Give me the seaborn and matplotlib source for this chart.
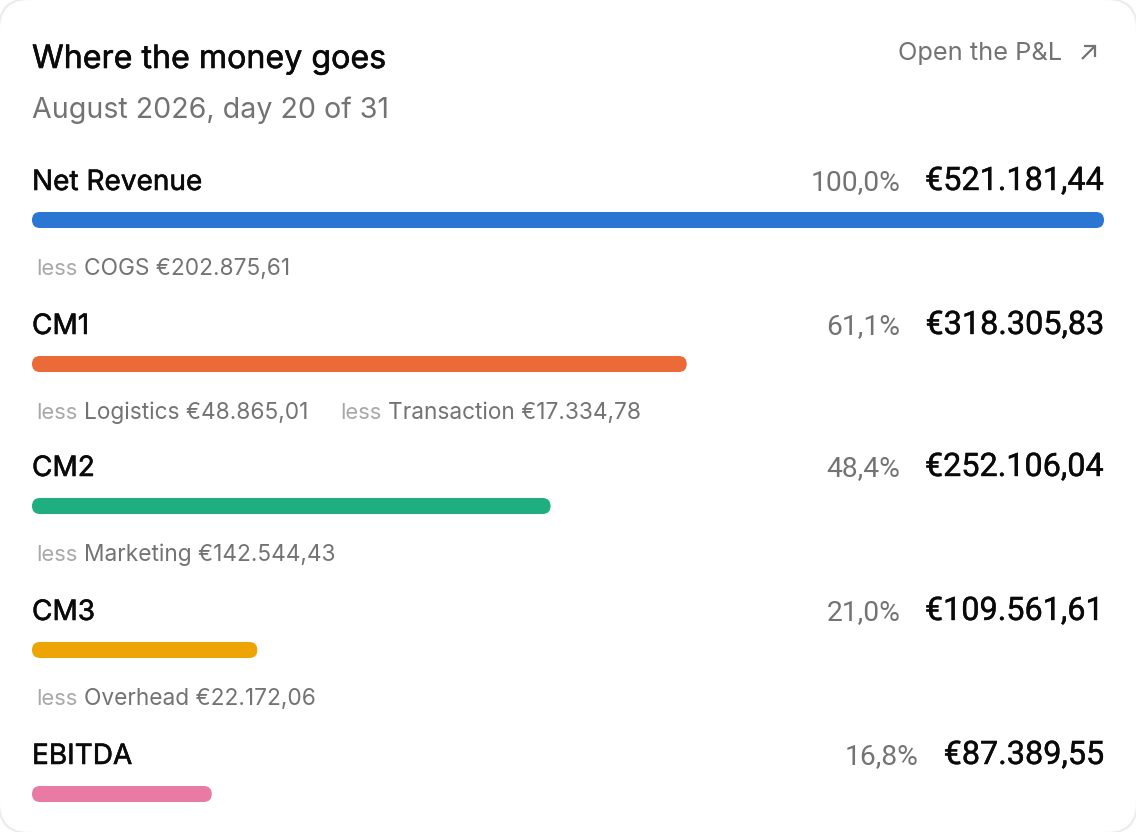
import matplotlib

matplotlib.use("Agg")
import matplotlib.patheffects as pe
import matplotlib.pyplot as plt
import pandas as pd
import seaborn as sns
from matplotlib.patches import FancyBboxPatch
from matplotlib.transforms import Affine2D

# values
levels = ["Net Revenue", "CM1", "CM2", "CM3", "EBITDA"]
amounts = [521181.44, 318305.83, 252106.04, 109561.61, 87389.55]
amount_labels = ["€521.181,44", "€318.305,83", "€252.106,04", "€109.561,61", "€87.389,55"]
share_labels = ["100,0%", "61,1%", "48,4%", "21,0%", "16,8%"]
colors = ["#2b76d2", "#ec6a37", "#1fae80", "#eea405", "#e87aa4"]
deductions = [
    [(36, 83.5, "COGS €202.875,61")],
    [(36, 83.5, "Logistics €48.865,01"), (340, 388.5, "Transaction €17.334,78")],
    [(36, 83.5, "Marketing €142.544,43")],
    [(36, 83.5, "Overhead €22.172,06")],
]

# layout, in pixels
W, H = 1136, 832
bar_centers = [220, 364, 506, 650, 794]
name_baselines = [190, 334, 476, 620, 764]
less_baselines = [275, 419, 561, 705]
share_right = [900.5, 900.5, 900.5, 900.5, 918.5]

sns.set_theme(style="white")
plt.rcParams["font.family"] = ["Inter", "DejaVu Sans"]

fig = plt.figure(figsize=(W / 100, H / 100), dpi=100, facecolor="white")
px = Affine2D().scale(1 / W, -1 / H).translate(0, 1) + fig.transFigure

card = FancyBboxPatch(
    (-1, -1), W + 2, H + 2, boxstyle="round,pad=0,rounding_size=30",
    transform=px, fc="white", ec="#ebebeb", lw=1.5, zorder=0, clip_on=False,
)
fig.add_artist(card)

ax = fig.add_axes([32 / W, 0, 1072 / W, 1])
ax.patch.set_alpha(0)
df = pd.DataFrame({"amount": amounts, "row": bar_centers, "level": levels})
# native_scale multiplies width by the smallest gap between rows (142 px)
sns.barplot(
    data=df, x="amount", y="row", hue="level", palette=colors, orient="h",
    native_scale=True, width=16 / 142, dodge=False, legend=False, ax=ax, saturation=1,
)
ax.set_xlim(0, amounts[0])
ax.set_ylim(H, 0)
ax.axis("off")

# swap the square bars for rounded ones of the same size
scale = 1072 / amounts[0]
for bar in list(ax.patches):
    rounded = FancyBboxPatch(
        (32, bar.get_y()), bar.get_width() * scale, bar.get_height(),
        boxstyle="round,pad=0,rounding_size=8", transform=px,
        fc=bar.get_facecolor(), ec="none",
    )
    bar.remove()
    fig.add_artist(rounded)


def label(x, y, s, size, color, ha="left", family="Inter", heavy=0.0):
    t = fig.text(
        x / W, 1 - y / H, s, fontsize=size * 0.72, color=color,
        ha=ha, va="baseline", family=family,
    )
    if heavy:
        # Inter comes in one weight here, a thin stroke gives the medium look
        t.set_path_effects([pe.withStroke(linewidth=heavy, foreground=color)])


label(32, 68, "Where the money goes", 32.2, "#0a0a0a", heavy=0.4)
label(32, 118, "August 2026, day 20 of 31", 28.6, "#737373")
label(898, 60, "Open the P&L", 25.4, "#737373")

arrow = dict(color="#737373", lw=1.6, transform=px, solid_capstyle="butt", solid_joinstyle="miter")
fig.add_artist(plt.Line2D([1082, 1095], [59, 46], **arrow))
fig.add_artist(plt.Line2D([1084, 1095, 1095], [46, 46, 57], **arrow))

for i, name in enumerate(levels):
    label(32, name_baselines[i], name, 28, "#0a0a0a", heavy=0.4)
    label(share_right[i], name_baselines[i], share_labels[i], 28.2, "#737373", ha="right", family="Roboto")
    label(1104, name_baselines[i], amount_labels[i], 32.4, "#0a0a0a", ha="right", family="Roboto", heavy=0.3)

for row, base in zip(deductions, less_baselines):
    for less_x, text_x, s in row:
        label(less_x, base, "less", 22, "#a8a8a8")
        label(text_x, base, s, 22.7, "#737373")

fig.savefig("out.png", dpi=100)
